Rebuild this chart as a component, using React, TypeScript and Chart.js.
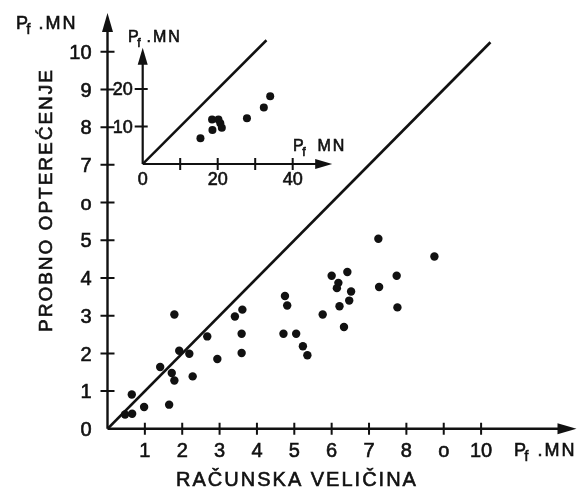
import React, { useEffect, useRef } from "react";
import { Chart, registerables } from "chart.js";

Chart.register(...registerables);

const FONT = '"Liberation Sans", Arial, Helvetica, sans-serif';
const INK = "#111111";

// ---- Main plot data (MN): computed load (x) vs. test load (y)
const mainComputed = [0.47, 0.66, 0.65, 0.98, 1.65, 1.41, 1.72, 1.79, 1.79, 1.92, 2.19, 2.28, 2.67, 2.94, 3.41, 3.61, 3.59, 3.59, 4.75, 4.81, 4.71, 5.05, 5.23, 5.35, 5.76, 6.0, 6.18, 6.14, 6.21, 6.33, 6.42, 6.52, 6.47, 7.25, 7.27, 7.74, 7.76, 8.75];
const mainTest = [0.38, 0.4, 0.91, 0.58, 0.64, 1.64, 1.48, 1.28, 3.03, 2.07, 1.99, 1.39, 2.45, 1.85, 2.98, 3.16, 2.52, 2.01, 3.52, 3.27, 2.52, 2.52, 2.19, 1.95, 3.03, 4.06, 3.87, 3.73, 3.25, 2.7, 4.16, 3.64, 3.4, 5.04, 3.76, 4.06, 3.22, 4.57];
const mainLineEnds = [0, 10.25];

// ---- Inset data (MN)
const insetComputed = [15.4, 18.6, 18.5, 20.2, 20.7, 21.1, 27.8, 32.3, 34.0];
const insetTest = [6.9, 9.1, 11.9, 11.9, 10.9, 9.7, 12.2, 15.1, 18.1];
const insetLineEnds = [0, 33];

// ---- Ticks
const mainXTickValues = [1, 2, 3, 4, 5, 6, 7, 8, 9, 10];
const mainXTickLabels = ["1", "2", "3", "4", "5", "6", "7", "8", "o", "10"];
const mainYTickValues = [0, 1, 2, 3, 4, 5, 6, 7, 8, 9, 10];
const mainYTickLabels = ["0", "1", "2", "3", "4", "5", "o", "7", "8", "9", "10"];
const insetXTickValues = [10, 20, 30, 40];
const insetXLabelValues = [0, 20, 40];
const insetXLabels = ["0", "20", "40"];
const insetYTickValues = [10, 20];
const insetYLabels = ["10", "20"];

// ---- Texts
const xTitle = "RAČUNSKA VELIČINA";
const yTitle = "PROBNO OPTEREĆENJE";
const unitMain = ".MN";
const unitInsetY = ".MN";
const unitInsetX = "MN";

function setSpacing(ctx: any, px: number) {
  if ("letterSpacing" in ctx) ctx.letterSpacing = px + "px";
}

// text with a hairline outline to mimic the heavier printed strokes
function ink(ctx: any, text: string, x: number, y: number) {
  ctx.fillText(text, x, y);
  ctx.strokeText(text, x, y);
}

function drawPf(ctx: any, x: number, yBase: number, size: number, rest: string, gap: number, spacing: number) {
  ctx.save();
  ctx.fillStyle = INK;
  ctx.strokeStyle = INK;
  ctx.lineWidth = 0.6;
  ctx.textAlign = "left";
  ctx.textBaseline = "alphabetic";
  setSpacing(ctx, 0);
  ctx.font = `${size}px ${FONT}`;
  ink(ctx, "P", x, yBase);
  const wp = ctx.measureText("P").width;
  const sub = Math.round(size * 0.75);
  ctx.font = `${sub}px ${FONT}`;
  ink(ctx, "f", x + wp - 1.5, yBase + size * 0.3);
  const wf = ctx.measureText("f").width;
  ctx.font = `${size}px ${FONT}`;
  setSpacing(ctx, spacing);
  ink(ctx, rest, x + wp - 1.5 + wf + gap, yBase);
  ctx.restore();
}

function arrowHead(ctx: any, tipX: number, tipY: number, dir: "up" | "right", len: number, half: number) {
  ctx.beginPath();
  if (dir === "up") {
    ctx.moveTo(tipX, tipY);
    ctx.lineTo(tipX - half, tipY + len);
    ctx.lineTo(tipX + half, tipY + len);
  } else {
    ctx.moveTo(tipX, tipY);
    ctx.lineTo(tipX - len, tipY - half);
    ctx.lineTo(tipX - len, tipY + half);
  }
  ctx.closePath();
  ctx.fill();
}

const mainAxesPlugin = {
  id: "mainAxes",
  beforeDatasetsDraw(chart: any) {
    const ctx = chart.ctx;
    const xs = chart.scales.x;
    const ys = chart.scales.y;
    const ca = chart.chartArea;
    const x0 = xs.getPixelForValue(0);
    const y0 = ys.getPixelForValue(0);
    ctx.save();
    ctx.strokeStyle = INK;
    ctx.fillStyle = INK;
    ctx.lineWidth = 2.4;
    ctx.lineCap = "butt";
    // axes
    ctx.beginPath();
    ctx.moveTo(x0, y0);
    ctx.lineTo(ca.right - 6, y0);
    ctx.moveTo(x0, y0);
    ctx.lineTo(x0, ca.top + 6);
    ctx.stroke();
    arrowHead(ctx, ca.right + 2, y0, "right", 19, 5.5);
    arrowHead(ctx, x0, ca.top - 1, "up", 19, 5.5);
    // ticks
    ctx.lineWidth = 2;
    ctx.beginPath();
    mainXTickValues.forEach((v) => {
      const px = xs.getPixelForValue(v);
      ctx.moveTo(px, y0 - 6);
      ctx.lineTo(px, y0 + 6);
    });
    mainYTickValues.forEach((v) => {
      if (v === 0) return;
      const py = ys.getPixelForValue(v);
      ctx.moveTo(x0 - 7, py);
      ctx.lineTo(x0 + 7, py);
    });
    ctx.stroke();
    // tick labels
    ctx.lineWidth = 0.6;
    const fs = 20;
    ctx.font = `${fs}px ${FONT}`;
    ctx.textBaseline = "alphabetic";
    ctx.textAlign = "center";
    mainXTickValues.forEach((v, i) => {
      ink(ctx, mainXTickLabels[i], xs.getPixelForValue(v), y0 + 28);
    });
    ctx.textAlign = "right";
    mainYTickValues.forEach((v, i) => {
      ink(ctx, mainYTickLabels[i], x0 - 16, ys.getPixelForValue(v) + fs * 0.36);
    });
    // titles
    setSpacing(ctx, 2);
    ctx.font = `20px ${FONT}`;
    ctx.textAlign = "center";
    ink(ctx, xTitle, 297, 486);
    ctx.save();
    ctx.translate(52, 200);
    ctx.rotate(-Math.PI / 2);
    ctx.font = `19px ${FONT}`;
    ink(ctx, yTitle, 0, 0);
    ctx.restore();
    setSpacing(ctx, 0);
    ctx.restore();
    // unit labels
    drawPf(ctx, 16, 29, 18, unitMain, 8, 2);
    drawPf(ctx, 514, 456, 18, unitMain, 9, 2);
  },
};

const insetAxesPlugin = {
  id: "insetAxes",
  beforeDatasetsDraw(chart: any) {
    const ctx = chart.ctx;
    const xs = chart.scales.x;
    const ys = chart.scales.y;
    const ca = chart.chartArea;
    const x0 = xs.getPixelForValue(0);
    const y0 = ys.getPixelForValue(0);
    const yArrowTip = ys.getPixelForValue(31);
    ctx.save();
    ctx.strokeStyle = INK;
    ctx.fillStyle = INK;
    ctx.lineWidth = 2.2;
    ctx.beginPath();
    ctx.moveTo(x0, y0);
    ctx.lineTo(ca.right - 6, y0);
    ctx.moveTo(x0, y0);
    ctx.lineTo(x0, yArrowTip + 6);
    ctx.stroke();
    arrowHead(ctx, ca.right + 2, y0, "right", 17, 5);
    arrowHead(ctx, x0, yArrowTip, "up", 17, 5);
    ctx.lineWidth = 2;
    ctx.beginPath();
    insetXTickValues.forEach((v) => {
      const px = xs.getPixelForValue(v);
      ctx.moveTo(px, y0 - 6);
      ctx.lineTo(px, y0 + 6);
    });
    insetYTickValues.forEach((v) => {
      const py = ys.getPixelForValue(v);
      ctx.moveTo(x0 - 8, py);
      ctx.lineTo(x0 + 5, py);
    });
    ctx.stroke();
    ctx.lineWidth = 0.6;
    const fs = 18;
    ctx.font = `${fs}px ${FONT}`;
    ctx.textAlign = "center";
    ctx.textBaseline = "alphabetic";
    insetXLabelValues.forEach((v, i) => {
      ink(ctx, insetXLabels[i], xs.getPixelForValue(v), y0 + 21);
    });
    ctx.textAlign = "right";
    insetYTickValues.forEach((v, i) => {
      ink(ctx, insetYLabels[i], x0 - 10, ys.getPixelForValue(v) + fs * 0.36);
    });
    ctx.restore();
    drawPf(ctx, 28, 22, 16, unitInsetY, 6, 2);
    drawPf(ctx, 193, 131, 16, unitInsetX, 12, 2);
  },
};

export default function App() {
  const mainRef = useRef<HTMLCanvasElement | null>(null);
  const insetRef = useRef<HTMLCanvasElement | null>(null);

  useEffect(() => {
    const mainCanvas = mainRef.current;
    const insetCanvas = insetRef.current;
    if (!mainCanvas || !insetCanvas) return;

    const mainChart = new Chart(mainCanvas, {
      type: "scatter",
      data: {
        datasets: [
          {
            label: "Probno opterećenje",
            data: mainComputed.map((x, i) => ({ x, y: mainTest[i] })),
            backgroundColor: INK,
            borderColor: INK,
            pointRadius: 4.2,
            pointBorderWidth: 0,
            showLine: false,
          },
          {
            label: "y = x",
            data: mainLineEnds.map((v) => ({ x: v, y: v })),
            borderColor: INK,
            borderWidth: 2.7,
            pointRadius: 0,
            showLine: true,
            fill: false,
          },
        ],
      },
      options: {
        responsive: false,
        animation: false,
        layout: { padding: { left: 107.5, right: 4.5, top: 14, bottom: 64.2 } },
        scales: {
          x: { type: "linear", min: 0, max: 12.5, display: false },
          y: { type: "linear", min: 0, max: 11, display: false },
        },
        plugins: { legend: { display: false }, tooltip: { enabled: false } },
      },
      plugins: [mainAxesPlugin],
    } as any);

    const insetChart = new Chart(insetCanvas, {
      type: "scatter",
      data: {
        datasets: [
          {
            label: "Inset",
            data: insetComputed.map((x, i) => ({ x, y: insetTest[i] })),
            backgroundColor: INK,
            borderColor: INK,
            pointRadius: 4,
            pointBorderWidth: 0,
            showLine: false,
          },
          {
            label: "y = x",
            data: insetLineEnds.map((v) => ({ x: v, y: v })),
            borderColor: INK,
            borderWidth: 2.5,
            pointRadius: 0,
            showLine: true,
            fill: false,
          },
        ],
      },
      options: {
        responsive: false,
        animation: false,
        layout: { padding: { left: 42.7, right: 29.8, top: 16.5, bottom: 31 } },
        scales: {
          x: { type: "linear", min: 0, max: 50, display: false },
          y: { type: "linear", min: 0, max: 34, display: false },
        },
        plugins: { legend: { display: false }, tooltip: { enabled: false } },
      },
      plugins: [insetAxesPlugin],
    } as any);

    return () => {
      mainChart.destroy();
      insetChart.destroy();
    };
  }, []);

  return (
    <div style={{ position: "fixed", left: 0, top: 0, width: 579, height: 493, background: "#fff" }}>
      <canvas ref={mainRef} width={579} height={493} style={{ position: "absolute", left: 0, top: 0, width: 579, height: 493 }} />
      <canvas ref={insetRef} width={260} height={175} style={{ position: "absolute", left: 100, top: 20, width: 260, height: 175 }} />
    </div>
  );
}
